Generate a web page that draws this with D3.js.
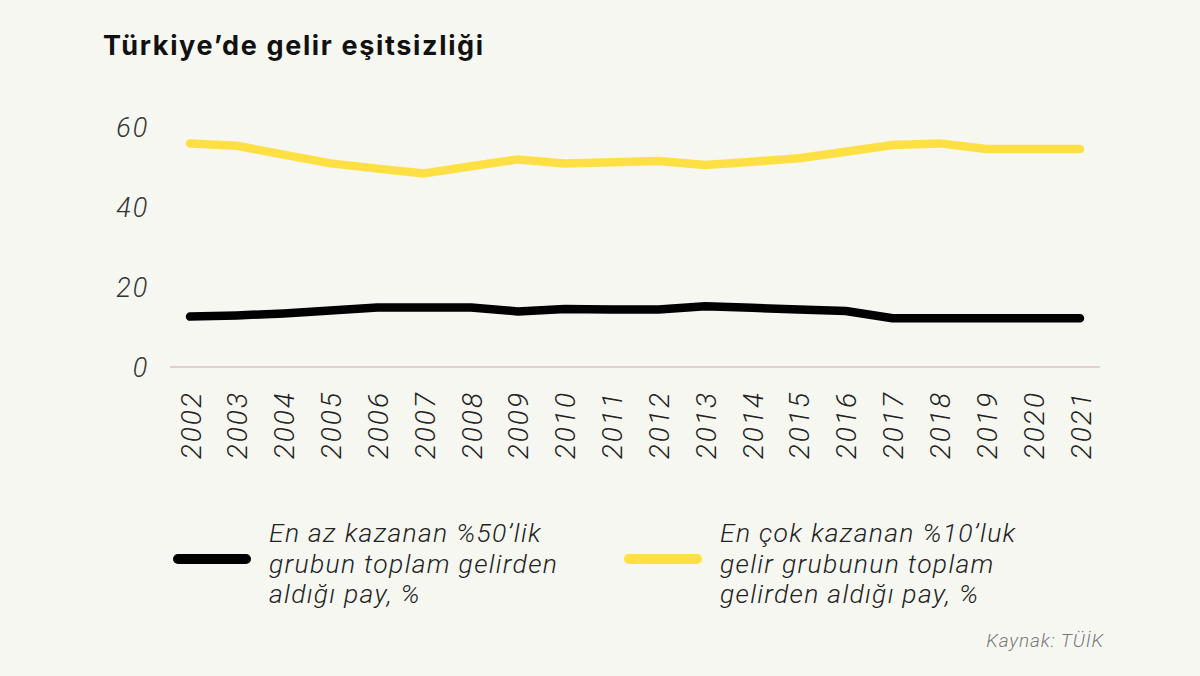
<!DOCTYPE html>
<html><head><meta charset="utf-8">
<script src="https://cdn.jsdelivr.net/npm/d3@7"></script>
<style>
html,body{margin:0;padding:0;background:#f7f7f2;}
svg{display:block;}
</style></head>
<body>
<svg id="c" width="1200" height="676"></svg>
<script>
const years = [2002,2003,2004,2005,2006,2007,2008,2009,2010,2011,2012,2013,2014,2015,2016,2017,2018,2019,2020,2021];
const bottom50 = [12.6,12.9,13.4,14.1,14.9,14.9,14.9,13.9,14.5,14.4,14.4,15.2,14.8,14.4,14.0,12.2,12.2,12.2,12.2,12.2];
const top10 = [55.9,55.3,53.1,50.9,49.6,48.4,50.2,51.9,50.9,51.2,51.5,50.5,51.3,52.2,53.8,55.5,55.9,54.5,54.5,54.5];
const yTicks = [0,20,40,60];
const title = "Türkiye’de gelir eşitsizliği";
const legend1 = ["En az kazanan %50’lik","grubun toplam gelirden","aldığı pay, %"];
const legend2 = ["En çok kazanan %10’luk","gelir grubunun toplam","gelirden aldığı pay, %"];
const source = "Kaynak: TÜİK";

const svg = d3.select("#c");
svg.append("rect").attr("width",1200).attr("height",676).attr("fill","#f7f7f2");
const FONT = "Roboto, 'Open Sans', sans-serif";

const x = d3.scaleLinear().domain([2002,2021]).range([190,1080]);
const y = d3.scaleLinear().domain([0,60]).range([367,127]);

svg.append("text").attr("x",103).attr("y",55).text(title)
  .attr("font-family","Inter, sans-serif").attr("font-weight",700).attr("font-size",27)
  .attr("letter-spacing",1.65).attr("fill","#111");

// y axis
const ya = svg.append("g").attr("transform","translate(149,0)")
  .call(d3.axisLeft(y).tickValues(yTicks).tickSize(0).tickPadding(0));
ya.select(".domain").remove();
ya.selectAll("text").attr("font-family",FONT).attr("font-style","italic").attr("font-weight",300)
  .attr("font-size",27).attr("letter-spacing",1.8).attr("fill","#333").attr("dy","0.35em");

// baseline
svg.append("line").attr("x1",170).attr("x2",1100).attr("y1",y(0)).attr("y2",y(0))
  .attr("stroke","#d6c4c2").attr("stroke-width",1.5);

// x axis
const xa = svg.append("g").attr("transform",`translate(0,${y(0)})`)
  .call(d3.axisBottom(x).tickValues(years).tickFormat(d3.format("d")).tickSize(0).tickPadding(0));
xa.select(".domain").remove();
xa.selectAll("text").attr("font-family",FONT).attr("font-style","italic").attr("font-weight",300)
  .attr("font-size",28).attr("letter-spacing",2).attr("fill","#222")
  .attr("text-anchor","end").attr("dy",null).attr("y",0)
  .attr("transform","translate(0,24) rotate(-90) translate(0,10)");

const line = d3.line().x((d,i)=>x(years[i])).y(d=>y(d));
svg.append("path").datum(top10).attr("d",line).attr("fill","none")
  .attr("stroke","#ffe044").attr("stroke-width",8.5).attr("stroke-linecap","round").attr("stroke-linejoin","round");
svg.append("path").datum(bottom50).attr("d",line).attr("fill","none")
  .attr("stroke","#000").attr("stroke-width",8.5).attr("stroke-linecap","round").attr("stroke-linejoin","round");

// legend
function leg(x0, color, lines){
  svg.append("line").attr("x1",x0).attr("x2",x0+68).attr("y1",559).attr("y2",559)
    .attr("stroke",color).attr("stroke-width",10).attr("stroke-linecap","round");
  const t = svg.append("text").attr("font-family",FONT).attr("font-style","italic").attr("font-weight",300)
    .attr("font-size",26.5).attr("letter-spacing",1.3).attr("fill","#222");
  lines.forEach((s,i)=>t.append("tspan").attr("x",x0+91).attr("y",542+i*30.5).text(s));
}
leg(178,"#000",legend1);
leg(629,"#ffe044",legend2);

svg.append("text").attr("x",1104).attr("y",647).attr("text-anchor","end").text(source)
  .attr("font-family",FONT).attr("font-style","italic").attr("font-weight",300).attr("font-size",19)
  .attr("letter-spacing",0.9).attr("fill","#777");
</script>
</body></html>
